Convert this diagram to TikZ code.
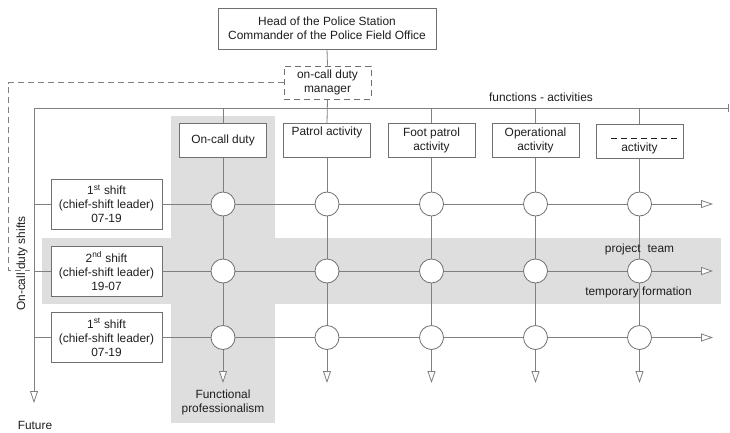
\documentclass[tikz,border=0pt]{standalone}
\usepackage{fontspec}
\setmainfont{Liberation Sans}
\usetikzlibrary{arrows.meta}
\definecolor{lncol}{HTML}{808080}
\definecolor{bxcol}{HTML}{707070}
\definecolor{txtcol}{HTML}{1E1E1E}
\definecolor{shadecol}{HTML}{DEDEDE}
\begin{document}
\begin{tikzpicture}[x=1pt,y=-1pt,
  font=\fontsize{11.9}{14}\selectfont,
  every node/.style={inner sep=0pt, text=txtcol},
  ln/.style={draw=lncol, line width=0.8pt},
  box/.style={draw=bxcol, fill=white, line width=0.8pt, align=center, minimum width=87pt, minimum height=34pt},
  shiftbox/.style={box, minimum width=111pt, minimum height=50pt},
  circ/.style={circle, draw=bxcol, fill=white, line width=0.8pt, minimum size=24pt},
  tipd/.style={-{Triangle[length=12pt,width=8pt,fill=white]}},
  dsh/.style={dash pattern=on 6pt off 4pt},
  txt/.style={align=center}
]
\useasboundingbox (0,0) rectangle (730,432);
% shaded areas
\fill[shadecol] (171,116) rectangle (275,423);
\fill[shadecol] (42,238) rectangle (721,304);

% coordinates
\coordinate (tl) at (34,108);
\coordinate (tr) at (729,108);
\coordinate (fut) at (34,403);
\coordinate (bot) at (0,383);
\coordinate (rend) at (713,0);
\coordinate (d1) at (8,0);
\coordinate (d2) at (8,270);
\coordinate (d3) at (30,270);

% top nodes
\node[box, minimum width=218pt, minimum height=41pt] (head) at (327,28.5) {Head of the Police Station\\Commander of the Police Field Office};
\node[box, dsh, minimum width=87pt, minimum height=33pt] (mgr) at (327.5,82.5) {on-call duty\\manager};

% activity nodes
\node[box] (a1) at (223,140.5) {On-call duty};
\node[box] (a2) at (327,140.5) {Patrol activity\\\strut};
\node[box] (a3) at (431.5,140.5) {Foot patrol\\activity};
\node[box] (a4) at (535.5,140.5) {Operational\\activity};
\node[box] (a5) at (639.5,141) {\strut\\activity};
\draw[draw=txtcol, line width=0.8pt, dash pattern=on 6pt off 4pt] ([xshift=-28.5pt,yshift=3pt]a5.center) -- ([xshift=38.5pt,yshift=3pt]a5.center);

% shift nodes
\node[shiftbox] (s1) at (106.5,204) {1\textsuperscript{st} shift\\(chief-shift leader)\\07-19};
\node[shiftbox] (s2) at (106.5,271) {2\textsuperscript{nd} shift\\(chief-shift leader)\\19-07};
\node[shiftbox] (s3) at (106.5,337.5) {1\textsuperscript{st} shift\\(chief-shift leader)\\07-19};

% main lines
\draw[ln, -{Bar[width=8pt]}] (tl) -- (tr);
\draw[ln, tipd] (tl) -- (fut);
\draw[ln] (head.south) -- (mgr.north);
\draw[ln] (mgr.south) -- (a2.north);
\draw[ln, dsh] (mgr.west) -- (mgr.west -| d1) -- (d2) -- (d3);
\foreach \a in {a1,a3,a4,a5} \draw[ln] (\a.north |- tl) -- (\a.north);
\foreach \a in {a1,a2,a3,a4,a5} \draw[ln, tipd] (\a.south) -- (\a.south |- bot);
\foreach \s in {s1,s2,s3} {
  \draw[ln] (\s.west -| tl) -- (\s.west);
  \draw[ln, tipd] (\s.east) -- (\s.east -| rend);
}

% circles
\foreach \s/\r in {s1/1,s2/2,s3/3}
  \foreach \a/\c in {a1/1,a2/2,a3/3,a4/4,a5/5}
    \node[circ] (c\r\c) at (\a |- \s) {};

% texts
\node (future) at (35,425) {Future};
\node (fa) at (541,97) {functions - activities};
\node[rotate=90] (ocs) at (22,263.5) {On-call duty shifts};
\node[txt] (fp) at (223,402.5) {Functional\\professionalism};
\node (pt) at (639.5,249) {project\hspace{7pt}team};
\node (tf) at (638.5,292) {temporary formation};
\end{tikzpicture}
\end{document}
